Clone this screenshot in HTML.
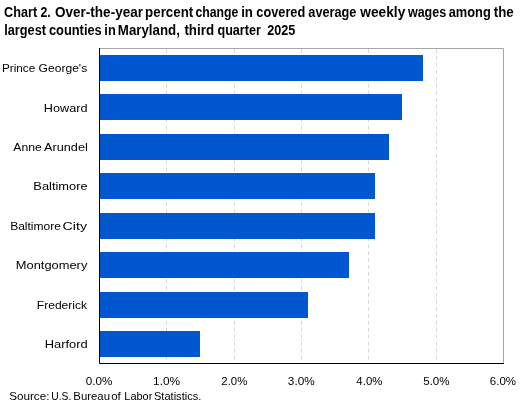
<!DOCTYPE html>
<html><head><meta charset="utf-8">
<style>
html,body{margin:0;padding:0;background:#fff;}
body{width:525px;height:403px;overflow:hidden;}
svg{display:block;}
text{font-family:"Liberation Sans",sans-serif;fill:#000;}
.t{filter:grayscale(1);}
</style></head>
<body>
<svg width="525" height="403" viewBox="0 0 525 403">
<rect x="0" y="0" width="525" height="403" fill="#fff"/>
<g stroke="#d9d9d9" stroke-width="1" stroke-dasharray="4 2.97">
<line x1="166.5" y1="49" x2="166.5" y2="363"/>
<line x1="234.5" y1="49" x2="234.5" y2="363"/>
<line x1="301.5" y1="49" x2="301.5" y2="363"/>
<line x1="368.5" y1="49" x2="368.5" y2="363"/>
<line x1="436.5" y1="49" x2="436.5" y2="363"/>
</g>
<path d="M99.5 48.5 H503.5 V363" stroke="#a6a6a6" stroke-width="1" fill="none"/>
<g fill="#0057d0">
<rect x="100" y="55" width="323" height="26"/>
<rect x="100" y="94" width="302" height="26"/>
<rect x="100" y="134" width="289" height="26"/>
<rect x="100" y="173" width="275" height="26"/>
<rect x="100" y="213" width="275" height="26"/>
<rect x="100" y="252" width="249" height="26"/>
<rect x="100" y="292" width="208" height="26"/>
<rect x="100" y="331" width="100" height="26"/>
</g>
<path d="M99.5 48 V363.5 H504" stroke="#000" stroke-width="1" fill="none"/>
<g class="t">
<text x="4.09" y="17" font-size="14" font-weight="bold" textLength="33.03" lengthAdjust="spacingAndGlyphs">Chart</text>
<text x="40.44" y="17" font-size="14" font-weight="bold" textLength="10.24" lengthAdjust="spacingAndGlyphs">2.</text>
<text x="55.07" y="17" font-size="14" font-weight="bold" textLength="87.89" lengthAdjust="spacingAndGlyphs">Over-the-year</text>
<text x="145.11" y="17" font-size="14" font-weight="bold" textLength="48.09" lengthAdjust="spacingAndGlyphs">percent</text>
<text x="195.43" y="17" font-size="14" font-weight="bold" textLength="42.88" lengthAdjust="spacingAndGlyphs">change</text>
<text x="241.16" y="17" font-size="14" font-weight="bold" textLength="11.73" lengthAdjust="spacingAndGlyphs">in</text>
<text x="256.35" y="17" font-size="14" font-weight="bold" textLength="48.90" lengthAdjust="spacingAndGlyphs">covered</text>
<text x="308.32" y="17" font-size="14" font-weight="bold" textLength="48.14" lengthAdjust="spacingAndGlyphs">average</text>
<text x="360.35" y="17" font-size="14" font-weight="bold" textLength="44.91" lengthAdjust="spacingAndGlyphs">weekly</text>
<text x="407.92" y="17" font-size="14" font-weight="bold" textLength="38.22" lengthAdjust="spacingAndGlyphs">wages</text>
<text x="448.69" y="17" font-size="14" font-weight="bold" textLength="42.03" lengthAdjust="spacingAndGlyphs">among</text>
<text x="493.71" y="17" font-size="14" font-weight="bold" textLength="19.92" lengthAdjust="spacingAndGlyphs">the</text>
<text x="4.18" y="35" font-size="14" font-weight="bold" textLength="41.86" lengthAdjust="spacingAndGlyphs">largest</text>
<text x="48.91" y="35" font-size="14" font-weight="bold" textLength="52.86" lengthAdjust="spacingAndGlyphs">counties</text>
<text x="104.37" y="35" font-size="14" font-weight="bold" textLength="11.33" lengthAdjust="spacingAndGlyphs">in</text>
<text x="117.84" y="35" font-size="14" font-weight="bold" textLength="62.03" lengthAdjust="spacingAndGlyphs">Maryland,</text>
<text x="184.40" y="35" font-size="14" font-weight="bold" textLength="29.64" lengthAdjust="spacingAndGlyphs">third</text>
<text x="217.46" y="35" font-size="14" font-weight="bold" textLength="43.42" lengthAdjust="spacingAndGlyphs">quarter</text>
<text x="267.30" y="35" font-size="14" font-weight="bold" textLength="28.08" lengthAdjust="spacingAndGlyphs">2025</text>
<text x="1.93" y="72" font-size="11" textLength="33.27" lengthAdjust="spacingAndGlyphs">Prince</text>
<text x="38.58" y="72" font-size="11" textLength="48.62" lengthAdjust="spacingAndGlyphs">George&#39;s</text>
<text x="43.86" y="112" font-size="11" textLength="43.69" lengthAdjust="spacingAndGlyphs">Howard</text>
<text x="13.24" y="151" font-size="11" textLength="28.56" lengthAdjust="spacingAndGlyphs">Anne</text>
<text x="44.10" y="151" font-size="11" textLength="43.67" lengthAdjust="spacingAndGlyphs">Arundel</text>
<text x="33.36" y="190" font-size="11" textLength="54.27" lengthAdjust="spacingAndGlyphs">Baltimore</text>
<text x="10.18" y="230" font-size="11" textLength="50.74" lengthAdjust="spacingAndGlyphs">Baltimore</text>
<text x="62.60" y="230" font-size="11" textLength="24.37" lengthAdjust="spacingAndGlyphs">City</text>
<text x="15.79" y="269" font-size="11" textLength="71.54" lengthAdjust="spacingAndGlyphs">Montgomery</text>
<text x="36.76" y="309" font-size="11" textLength="50.37" lengthAdjust="spacingAndGlyphs">Frederick</text>
<text x="44.71" y="348" font-size="11" textLength="42.92" lengthAdjust="spacingAndGlyphs">Harford</text>
<text x="85.88" y="385" font-size="10.5" textLength="26.59" lengthAdjust="spacingAndGlyphs">0.0%</text>
<text x="153.10" y="385" font-size="10.5" textLength="27.08" lengthAdjust="spacingAndGlyphs">1.0%</text>
<text x="221.32" y="385" font-size="10.5" textLength="25.96" lengthAdjust="spacingAndGlyphs">2.0%</text>
<text x="287.89" y="385" font-size="10.5" textLength="26.91" lengthAdjust="spacingAndGlyphs">3.0%</text>
<text x="356.38" y="385" font-size="10.5" textLength="26.00" lengthAdjust="spacingAndGlyphs">4.0%</text>
<text x="423.21" y="385" font-size="10.5" textLength="26.43" lengthAdjust="spacingAndGlyphs">5.0%</text>
<text x="489.89" y="385" font-size="10.5" textLength="26.19" lengthAdjust="spacingAndGlyphs">6.0%</text>
<text x="9.18" y="400" font-size="11" textLength="40.31" lengthAdjust="spacingAndGlyphs">Source:</text>
<text x="51.27" y="400" font-size="11" textLength="19.99" lengthAdjust="spacingAndGlyphs">U.S.</text>
<text x="73.30" y="400" font-size="11" textLength="36.72" lengthAdjust="spacingAndGlyphs">Bureau</text>
<text x="111.20" y="400" font-size="11" textLength="9.61" lengthAdjust="spacingAndGlyphs">of</text>
<text x="124.30" y="400" font-size="11" textLength="28.06" lengthAdjust="spacingAndGlyphs">Labor</text>
<text x="154.00" y="400" font-size="11" textLength="47.29" lengthAdjust="spacingAndGlyphs">Statistics.</text>
</g>
</svg>
</body></html>
